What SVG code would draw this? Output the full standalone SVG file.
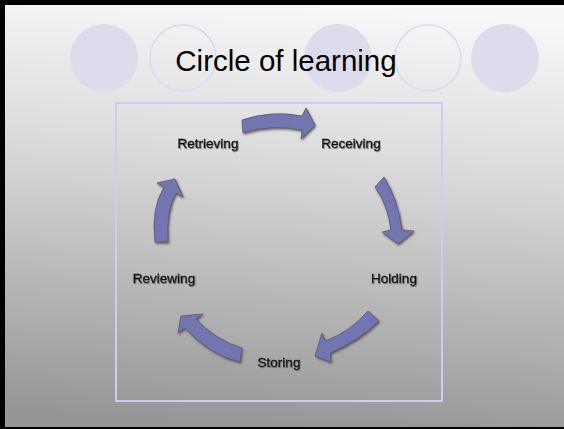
<svg xmlns="http://www.w3.org/2000/svg" width="564" height="429" viewBox="0 0 564 429">
<defs>
<linearGradient id="bg" x1="0.55" y1="0" x2="0.45" y2="1">
<stop offset="0" stop-color="#f7f7f7"/>
<stop offset="0.35" stop-color="#dcdcdc"/>
<stop offset="1" stop-color="#969696"/>
</linearGradient>
<filter id="sh" x="-20%" y="-20%" width="140%" height="140%">
<feDropShadow dx="1" dy="1.5" stdDeviation="1" flood-color="#444" flood-opacity="0.8"/>
</filter>
<filter id="tsh" x="-10%" y="-30%" width="120%" height="160%">
<feDropShadow dx="0.8" dy="0.8" stdDeviation="0.5" flood-color="#666" flood-opacity="0.8"/>
</filter>
</defs>
<style>
.fc{fill:#dcdcec;stroke:none}
.oc{fill:none;stroke:#dadaf2;stroke-width:1.5}
.arr{fill:#7275b0;stroke:#5c5c6c;stroke-width:0.8;stroke-linejoin:round;filter:url(#sh)}
.lbl{font-family:"Liberation Sans",Arial,sans-serif;font-size:13.5px;fill:#111;stroke:#111;stroke-width:0.35;filter:url(#tsh)}
.ttl{font-family:"Liberation Sans",Arial,sans-serif;font-size:29.5px;fill:#000}
</style>
<rect x="0" y="0" width="564" height="429" fill="#000"/>
<rect x="5" y="5" width="559" height="422" fill="url(#bg)"/>
<g id="decor">
<circle class="fc" cx="104" cy="58" r="34"/>
<circle class="oc" cx="183" cy="58" r="33"/>
<circle class="fc" cx="338" cy="58" r="34"/>
<circle class="oc" cx="428" cy="58" r="33"/>
<circle class="fc" cx="505" cy="58" r="34"/>
</g>
<text class="ttl" x="286" y="71" text-anchor="middle">Circle of learning</text>
<rect id="frame" x="116" y="103" width="326" height="298" fill="none" stroke="#ccccf4" stroke-width="2"/>
<g id="connectors">
<path class="arr" d="M242,120 Q272,110 302,116 L306,108 L315,125 L301,139 L302,130 Q272,124 243,133 Z"/>
<path class="arr" d="M384,177 Q398,200 402,230 L414,231 L398,244 L382,232 L391,230 Q388,205 375,187 Z"/>
<path class="arr" d="M368,311 Q350,332 325,341 L322,333 L315,356 L331,362 L330,353 Q360,340 379,321 Z"/>
<path class="arr" d="M242,348 Q215,340 196,319 L203,314 L181,316 L178,333 L185,328 Q210,355 240,362 Z"/>
<path class="arr" d="M155,242 Q151,208 164,187 L157,183 L175,179 L183,197 L176,193 Q166,210 168,242 Z"/>
</g>
<g id="receiving"><text class="lbl" x="351" y="148" text-anchor="middle">Receiving</text></g>
<g id="holding"><text class="lbl" x="394" y="283" text-anchor="middle">Holding</text></g>
<g id="storing"><text class="lbl" x="279" y="367" text-anchor="middle">Storing</text></g>
<g id="reviewing"><text class="lbl" x="164" y="283" text-anchor="middle">Reviewing</text></g>
<g id="retrieving"><text class="lbl" x="208" y="148" text-anchor="middle">Retrieving</text></g>
</svg>
